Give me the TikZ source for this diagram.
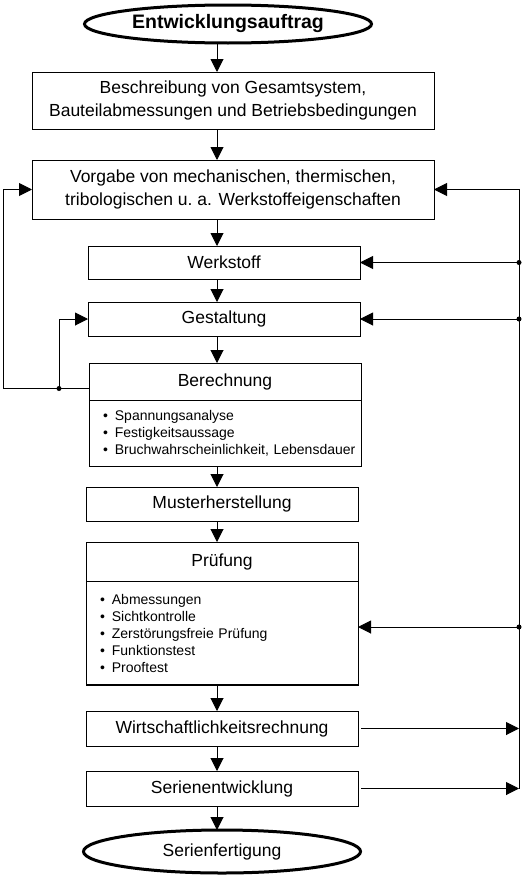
\documentclass[tikz,border=0pt]{standalone}
\usepackage{fontspec}
\setmainfont{Liberation Sans}
\usepackage{tikz}
\usetikzlibrary{positioning}
\usetikzlibrary{shapes.geometric}
\usetikzlibrary{arrows.meta}
\newcommand{\hdf}{\fontsize{17.5}{23}\selectfont}
\newcommand{\lstf}{\fontsize{14}{17}\selectfont}
\newcommand{\ttlf}{\fontsize{19.5}{23}\selectfont\bfseries}
\newcommand{\itm}[1]{\mbox{\textbullet\hspace{7pt}#1}}
\tikzstyle{box}=[draw=black,line width=1pt,minimum width=272pt,minimum height=34pt,inner sep=0pt,outer sep=0pt,align=center,font=\hdf]
\tikzstyle{lst}=[box,align=left,text width=244pt,font=\lstf]
\tikzstyle{oval}=[draw=black,line width=3pt,ellipse,inner sep=0pt,outer sep=0pt,font=\hdf]
\tikzstyle{flow}=[line width=1pt,-{Triangle[length=13pt,width=13pt]}]
\tikzstyle{dot}=[circle,fill=black,inner sep=0pt,minimum size=5pt]

\begin{document}
\begin{tikzpicture}[x=1pt,y=-1pt,node distance=25pt]
    \useasboundingbox (0,0) rectangle (526,878);
    \coordinate (ax) at (217,0);
    \coordinate (lx) at (3,0);
    \coordinate (jx) at (59,0);
    \coordinate (rx) at (519,0);

    \node [oval,minimum width=287pt,minimum height=38pt] (start) at (228,24) {\ttlf Entwicklungsauftrag};
    \node [box,below=29pt of start,xshift=5pt,minimum width=402pt,minimum height=57pt] (beschr)
      {Beschreibung von Gesamtsystem,\\Bauteilabmessungen und Betriebsbedingungen};
    \node [box,below=31pt of beschr,minimum width=402pt,minimum height=59pt] (vorgabe)
      {Vorgabe von mechanischen, thermischen,\\tribologischen u.\ a. Werkstoffeigenschaften};
    \node [box,below=27pt of vorgabe,xshift=-9pt,minimum height=33pt] (werk) {Werkstoff};
    \node [box,below=23pt of werk] (gestalt) {Gestaltung};
    \node [box,below=27pt of gestalt,xshift=1pt,minimum height=37pt] (berH) {Berechnung};
    \node [lst,below=0pt of berH,minimum height=66pt] (berL)
      {\itm{Spannungsanalyse}\\\itm{Festigkeitsaussage}\\\itm{Bruchwahrscheinlichkeit, Lebensdauer}};
    \node [box,below=21pt of berL,xshift=-3pt] (muster) {Musterherstellung};
    \node [box,below=21pt of muster,minimum height=39pt] (pruefH) {Prüfung};
    \node [lst,below=0pt of pruefH,minimum height=104pt] (pruefL)
      {\itm{Abmessungen}\\\itm{Sichtkontrolle}\\\itm{Zerstörungsfreie Prüfung}\\\itm{Funktionstest}\\\itm{Prooftest}};
    \draw [line width=2.5pt] (pruefL.south west) -- (pruefL.south east);
    \node [box,below=26pt of pruefL,minimum height=35pt] (wirt) {Wirtschaftlichkeitsrechnung};
    \node [box,below=25pt of wirt,minimum height=35pt] (serie) {Serienentwicklung};
    \node [oval,below=24pt of serie,minimum width=277pt,minimum height=43pt] (ende) {Serienfertigung};

    \foreach \a/\b in {start/beschr,beschr/vorgabe,vorgabe/werk,werk/gestalt,gestalt/berH,
      berL/muster,muster/pruefH,pruefL/wirt,wirt/serie,serie/ende}
      \draw [flow] (\a.south -| ax) -- (\b.north -| ax);

    \coordinate (bl) at ([yshift=-7pt]berH.west);
    \draw [flow] (bl) -- (bl -| lx) |- (vorgabe.west);
    \node [dot] (jl) at (bl -| jx) {};
    \draw [flow] (jl.center) |- (gestalt.west);

    \draw [flow] (serie.east -| rx) -- (vorgabe.east -| rx) -- (vorgabe.east);
    \foreach \n in {werk,gestalt} {
      \node [dot] (d\n) at (\n.east -| rx) {};
      \draw [flow] (d\n.center) -- (\n.east);
    }
    \coordinate (pl) at ([yshift=6pt]pruefL.east);
    \node [dot] (dpruef) at (pl -| rx) {};
    \draw [flow] (dpruef.center) -- (pl);
    \foreach \n in {wirt,serie}
      \draw [flow] ([xshift=3pt]\n.east) -- (\n.east -| rx);
\end{tikzpicture}
\end{document}
